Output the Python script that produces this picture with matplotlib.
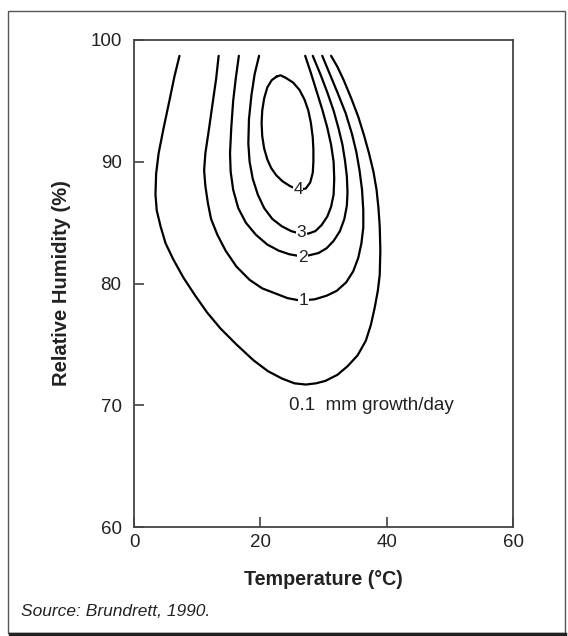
import matplotlib
matplotlib.use("Agg")
import matplotlib.pyplot as plt
from matplotlib.patches import Rectangle
from matplotlib.lines import Line2D

plt.rcParams['font.family'] = ['Liberation Sans', 'DejaVu Sans']

# contour lines as (temperature degC, RH %)
c01 = [(7.2, 98.7), (6.4, 97), (5.6, 95), (4.7, 92.8), (3.9, 90.7), (3.5, 89), (3.4, 87.3),
       (3.6, 86), (4.2, 84.7), (5.0, 83.3), (6.2, 82), (7.8, 80.5), (9.7, 79), (11.6, 77.6),
       (13.7, 76.3), (16.2, 75), (18.9, 73.7), (21.2, 72.8), (23.4, 72.2), (25.4, 71.8),
       (27.2, 71.7), (28.8, 71.8), (30.3, 72), (32.2, 72.5), (33.8, 73.2), (35.4, 74.1),
       (36.7, 75.3), (37.5, 76.6), (38.1, 78), (38.6, 79.4), (38.9, 80.7), (39.0, 82.7),
       (38.9, 84.7), (38.7, 86.2), (38.4, 87.7), (37.9, 89.2), (37.2, 90.7), (36.4, 92.2),
       (35.5, 93.7), (34.4, 95.2), (33.2, 96.7), (32.2, 97.8), (31.2, 98.7)]
c1 = [(13.4, 98.7), (13.0, 96.8), (12.5, 95), (11.9, 92.8), (11.3, 90.7), (11.1, 89.3),
      (11.3, 88), (11.7, 86.6), (12.2, 85.3), (13.2, 84), (14.5, 82.7), (16.2, 81.4),
      (18.3, 80.3), (20.3, 79.6), (22.3, 79.2), (24.3, 78.8), (26.3, 78.6), (28.6, 78.7),
      (30.5, 79), (32.1, 79.4), (33.6, 80.1), (34.7, 81), (35.5, 82.1), (36.0, 83.3),
      (36.3, 84.6), (36.3, 86), (36.1, 87.7), (35.7, 89.3), (35.2, 90.8), (34.5, 92.3),
      (33.5, 94), (32.2, 95.7), (31.0, 97.2), (29.8, 98.7)]
c2 = [(16.6, 98.7), (16.1, 96.8), (15.7, 95), (15.4, 92.8), (15.2, 90.7), (15.3, 89.2),
      (15.7, 87.7), (16.5, 86.2), (17.7, 85), (19.3, 84), (21.1, 83.2), (22.9, 82.7),
      (24.6, 82.4), (26.8, 82.2), (29.2, 82.5), (30.5, 82.9), (31.6, 83.5), (32.6, 84.3),
      (33.3, 85.3), (33.7, 86.4), (33.8, 87.5), (33.7, 88.8), (33.4, 90.1), (33.0, 91.4),
      (32.4, 92.7), (31.6, 94.2), (30.6, 95.7), (29.5, 97.2), (28.3, 98.7)]
c3 = [(19.8, 98.7), (19.1, 97.2), (18.6, 95.5), (18.2, 93.5), (18.1, 91.5), (18.3, 90.0),
      (18.8, 88.6), (19.6, 87.3), (20.6, 86.2), (21.9, 85.3), (23.4, 84.7), (24.9, 84.3),
      (26.3, 84.1), (27.6, 84.1), (28.7, 84.3), (29.7, 84.8), (30.6, 85.5), (31.2, 86.3),
      (31.6, 87.3), (31.7, 88.6), (31.6, 90), (31.2, 91.4), (30.6, 92.8), (29.8, 94.3),
      (28.9, 95.8), (28.0, 97.3), (27.1, 98.7)]
c4 = [(22.6, 97.0), (21.8, 96.7), (21.1, 96.1), (20.6, 95.2), (20.3, 94.2), (20.2, 93.2),
      (20.3, 92.1), (20.6, 91.1), (21.1, 90.2), (21.7, 89.5), (22.5, 88.9), (23.5, 88.4),
      (24.7, 88.0), (26.0, 87.7), (27.2, 87.8), (27.9, 88.3), (28.3, 89.1), (28.4, 90.0),
      (28.4, 91.0), (28.3, 92.0), (28.0, 93.2), (27.6, 94.2), (27.0, 95.1), (26.2, 95.9),
      (25.2, 96.5), (24.0, 96.9), (23.2, 97.1), (22.6, 97.0)]

contours = [c01, c1, c2, c3, c4]
label_text = ["1", "2", "3", "4"]
label_pos = [(26.8, 78.6), (26.7, 82.1), (26.5, 84.2), (26.0, 87.7)]

x_ticks = [0, 20, 40, 60]
y_ticks = [60, 70, 80, 90, 100]

fig = plt.figure(figsize=(5.68, 6.36), dpi=100)
ax = fig.add_axes([134/568, 1-527/636, (513-134)/568, (527-40)/636])

for c in contours:
    xs = [p[0] for p in c]
    ys = [p[1] for p in c]
    ax.plot(xs, ys, color='black', lw=1.6, solid_capstyle='round', solid_joinstyle='round')

for t, (x, y) in zip(label_text, label_pos):
    ax.text(x, y, t, fontsize=12.5, ha='center', va='center', color='#222',
            bbox=dict(facecolor='white', edgecolor='none', pad=0.3))

ax.text(24.5, 70.0, "0.1  mm growth/day", fontsize=13.5, ha='left', va='center', color='#222')

ax.set_xlim(0, 60)
ax.set_ylim(60, 100)
ax.set_xticks(x_ticks)
ax.set_yticks(y_ticks)
ax.tick_params(direction='in', length=7, width=1.1, color='#333', labelsize=13.5,
               labelcolor='#222')
ax.tick_params(axis='y', pad=9)
ax.tick_params(axis='x', pad=5)
for s in ax.spines.values():
    s.set_linewidth(1.3)
    s.set_color('#444')

ax.set_xlabel("Temperature (°C)", fontsize=14.2, fontweight='bold', color='#222', labelpad=14)
ax.set_ylabel("Relative Humidity (%)", fontsize=14.5, fontweight='bold', color='#222', labelpad=14)

fig.text(21/568, 1-612/636, "Source: Brundrett, 1990.", fontsize=12.5, style='italic',
         ha='left', va='center', color='#222')

fig.patches.append(Rectangle((8/568, 1-633/636), (565-8)/568, (633-11)/636,
                             transform=fig.transFigure, fill=False, lw=1.0, ec='#555'))
fig.lines.append(Line2D([10/568, 565/568], [1-634/636, 1-634/636],
                        transform=fig.transFigure, lw=2.5, color='#222'))

fig.savefig("out.png", dpi=100)
